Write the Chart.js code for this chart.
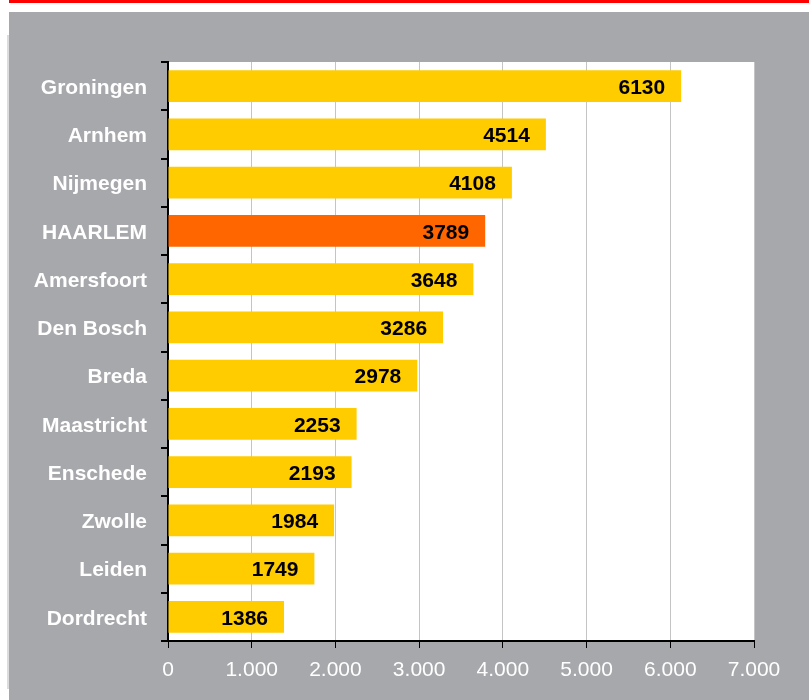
<!DOCTYPE html>
<html>
<head>
<meta charset="utf-8">
<script src="https://cdn.jsdelivr.net/npm/chart.js@4.4.1/dist/chart.umd.min.js"></script>
<style>
  body { margin: 0; background: #fff; }
  canvas { display: block; }
</style>
</head>
<body>
<canvas id="myChart" width="809" height="700"></canvas>
<script>
const cities = ['Groningen', 'Arnhem', 'Nijmegen', 'HAARLEM', 'Amersfoort', 'Den Bosch',
    'Breda', 'Maastricht', 'Enschede', 'Zwolle', 'Leiden', 'Dordrecht'];
const values = [6130, 4514, 4108, 3789, 3648, 3286, 2978, 2253, 2193, 1984, 1749, 1386];
const highlight = 'HAARLEM';
const xTickLabels = ['0', '1.000', '2.000', '3.000', '4.000', '5.000', '6.000', '7.000'];

const barColors = cities.map(c => c === highlight ? '#ff6600' : '#ffcc00');
const fontFamily = '"Liberation Sans", Arial, sans-serif';

// background: red line, grey panel, white plot area
const panelPlugin = {
    id: 'panel',
    beforeDraw(chart) {
        const ctx = chart.ctx;
        const area = chart.chartArea;
        ctx.save();
        ctx.fillStyle = '#ffffff';
        ctx.fillRect(0, 0, chart.width, chart.height);
        ctx.fillStyle = '#ff0000';
        ctx.fillRect(9, 0, chart.width - 9, 3);
        ctx.fillStyle = '#a7a8ac';
        ctx.fillRect(9, 12, chart.width - 9, chart.height - 12);
        ctx.fillStyle = '#dcdcde';
        ctx.fillRect(7, 35, 2, 654);
        ctx.fillStyle = '#ffffff';
        ctx.fillRect(area.left, area.top, area.right - area.left, area.bottom - area.top);
        ctx.restore();
    }
};

// value labels inside the bar end
const valueLabels = {
    id: 'valueLabels',
    afterDatasetsDraw(chart) {
        const ctx = chart.ctx;
        const meta = chart.getDatasetMeta(0);
        ctx.save();
        ctx.font = 'bold 21px ' + fontFamily;
        ctx.fillStyle = '#000';
        ctx.textAlign = 'right';
        ctx.textBaseline = 'middle';
        meta.data.forEach((bar, i) => {
            ctx.fillText(String(values[i]), bar.x - 16, bar.y + 2);
        });
        ctx.restore();
    }
};

const ctx = document.getElementById('myChart').getContext('2d');
window.myChart = new Chart(ctx, {
    type: 'bar',
    data: {
        labels: cities,
        datasets: [{
            data: values,
            backgroundColor: barColors,
            borderWidth: 0,
            barPercentage: 0.66,
            categoryPercentage: 1
        }]
    },
    options: {
        indexAxis: 'y',
        responsive: false,
        animation: false,
        layout: { padding: { top: 62, right: 55, left: 0, bottom: 0 } },
        plugins: {
            legend: { display: false },
            tooltip: { enabled: false }
        },
        scales: {
            x: {
                min: 0,
                max: 7000,
                ticks: {
                    stepSize: 1000,
                    color: '#ffffff',
                    font: { family: fontFamily, size: 21 },
                    padding: 10,
                    callback: (v, i) => xTickLabels[i]
                },
                grid: {
                    color: '#c4c4c4',
                    lineWidth: 1,
                    tickColor: '#000',
                    tickLength: 7
                },
                border: { color: '#000', width: 2 },
                afterFit(scale) { scale.height = 59; }
            },
            y: {
                ticks: {
                    color: '#ffffff',
                    font: { family: fontFamily, size: 21, weight: 'bold' },
                    padding: 14,
                    labelOffset: 2
                },
                grid: {
                    drawOnChartArea: false,
                    tickColor: '#000',
                    tickLength: 7,
                    lineWidth: 2
                },
                border: { color: '#000', width: 2 },
                afterFit(scale) { scale.width = 168; }
            }
        }
    },
    plugins: [panelPlugin, valueLabels]
});
</script>
</body>
</html>
